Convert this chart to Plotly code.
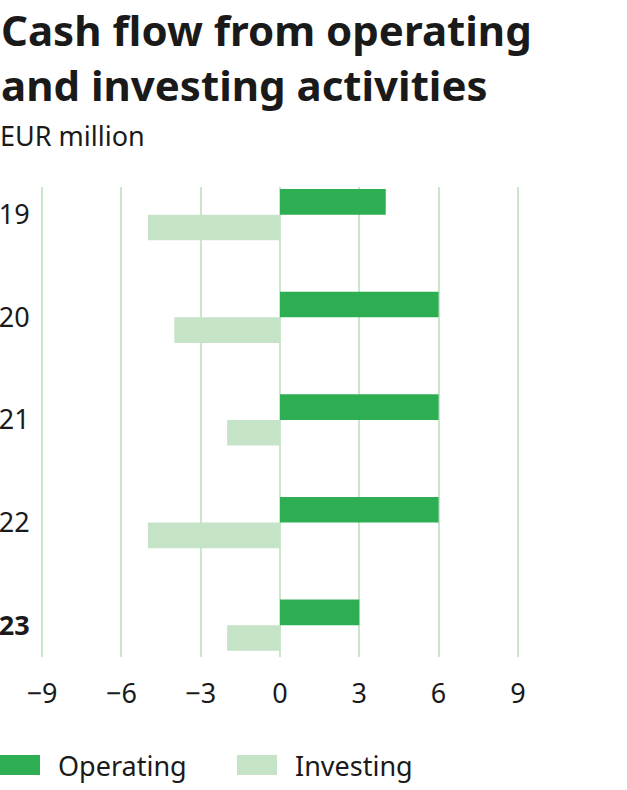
import plotly.graph_objects as go

years = ["19", "20", "21", "22", "23"]
year_labels = ["19", "20", "21", "22", "<b>23</b>"]
operating = [4, 6, 6, 6, 3]
investing = [-5, -4, -2, -5, -2]
x_ticks = [-9, -6, -3, 0, 3, 6, 9]

DARK = "#2eae53"
LIGHT = "#c5e3c7"
GRID = "#c8e6c9"
TEXT = "#1a1a1a"
FONT = "Noto Sans"

W, H = 627, 790
PAD = 0.08
L, R, T, B = 42 - 2, 107, 187, 133
PW, PH = W - L - R, H - T - B

def px(x):
    return (x - L) / PW

def py(y):
    return (H - B - y) / PH

fig = go.Figure()
fig.add_trace(go.Bar(y=years, x=operating, orientation="h", name="Operating",
                     marker=dict(color=DARK, line=dict(width=0))))
fig.add_trace(go.Bar(y=years, x=investing, orientation="h", name="Investing",
                     marker=dict(color=LIGHT, line=dict(width=0))))

fig.update_layout(
    width=W, height=H,
    margin=dict(l=L, r=R, t=T, b=B, autoexpand=False),
    paper_bgcolor="white", plot_bgcolor="white",
    barmode="group", bargap=0.5, bargroupgap=0,
    showlegend=False,
    font=dict(family=FONT, color=TEXT),
    xaxis=dict(range=[-9 - PAD, 9 + PAD], tickvals=x_ticks, showgrid=True, gridcolor=GRID,
               gridwidth=2, zeroline=True, zerolinecolor=GRID, zerolinewidth=2,
               ticks="outside", ticklen=13, tickcolor="rgba(0,0,0,0)", automargin=False,
               tickfont=dict(size=27, family=FONT, color=TEXT), showline=False),
    yaxis=dict(type="category", categoryarray=years, tickvals=years, ticktext=year_labels,
               range=[4.31, -0.27], showgrid=False, zeroline=False, automargin=False,
               ticks="outside", ticklen=4, tickcolor="rgba(0,0,0,0)",
               tickfont=dict(size=27, family=FONT, color=TEXT), showline=False),
)

fig.add_annotation(text="<b>Cash flow from operating<br>and investing activities</b>",
                   xref="paper", yref="paper", x=px(0), y=py(0), xanchor="left",
                   yanchor="top", align="left", showarrow=False, borderpad=0,
                   font=dict(size=42, family=FONT, color=TEXT))
fig.add_annotation(text="EUR million", xref="paper", yref="paper", x=px(-2), y=py(115),
                   xanchor="left", yanchor="top", align="left", showarrow=False,
                   font=dict(size=27, family=FONT, color=TEXT))

legend = [("Operating", DARK, 0), ("Investing", LIGHT, 237)]
for name, col, x0 in legend:
    fig.add_shape(type="rect", xref="paper", yref="paper",
                  x0=px(x0), x1=px(x0 + 40), y0=py(775), y1=py(755),
                  fillcolor=col, line=dict(width=0))
    fig.add_annotation(text=name, xref="paper", yref="paper", x=px(x0 + 56), y=py(765),
                       xanchor="left", yanchor="middle", showarrow=False,
                       font=dict(size=27, family=FONT, color=TEXT))

fig.write_html("out.html", config={"displayModeBar": False},
               post_script="document.body.style.margin='0';")
